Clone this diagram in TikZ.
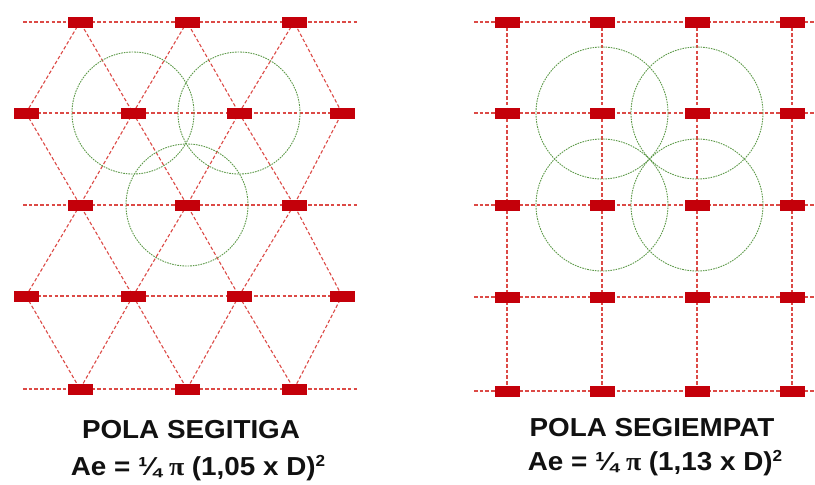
\documentclass[tikz,border=0pt]{standalone}
\usepackage{fontspec}
\setmainfont{Liberation Serif}
\setsansfont{Liberation Sans}
\newfontfamily\capfont[FakeStretch=1.07]{Liberation Sans}
\newfontfamily\pifont[FakeStretch=1.07]{Liberation Serif}
\usetikzlibrary{backgrounds}
\definecolor{padred}{HTML}{C4000A}
\definecolor{gridred}{HTML}{DC4A46}
\definecolor{zonegreen}{HTML}{5E9A4A}
\definecolor{ink}{HTML}{111111}
\newcommand{\PW}{25pt}
\newcommand{\PH}{11pt}
\newcommand{\sq}{\raisebox{9pt}{\fontsize{16}{16}\selectfont 2}}
\tikzset{
  pad/.style={fill=padred,minimum width=\PW,minimum height=\PH,inner sep=0pt},
  gridline/.style={gridred,line width=1.1pt,dash pattern=on 3.5pt off 2.2pt},
  zone/.style={zonegreen,line width=0.9pt,dash pattern=on 1.6pt off 1pt},
  caption/.style={anchor=base,inner sep=0pt,text=ink,
    font=\capfont\bfseries\fontsize{26}{30}\selectfont}
}

\begin{document}
\begin{tikzpicture}[x=1pt,y=-1pt]
\useasboundingbox (0,0) rectangle (815,485);

% ---------------- L1: triangular pattern -----------------------------------
\foreach \r/\y in {1/22,3/205,5/389}
  \foreach \c/\x in {1/80,2/187,3/294}
    {\node[pad] (T-\r-\c) at (\x,\y) {};}
\foreach \r/\y in {2/113,4/296}
  \foreach \c/\x in {1/26,2/133,3/239,4/342}
    {\node[pad] (T-\r-\c) at (\x,\y) {};}
\foreach \r/\y in {1/22,3/205,5/389}
  {\coordinate (TL-\r) at (23,\y); \coordinate (TR-\r) at (357,\y);}

\begin{scope}[on background layer]
  \foreach \r in {1,3,5}
    {\draw[gridline] (TL-\r) -- (TR-\r);}
  \foreach \r in {2,4}
    {\draw[gridline] (T-\r-1.center) -- (T-\r-4.center);}
  % each pad of a short row meets the two pads of the long rows next to it
  \foreach \r/\s in {1/2,3/2,3/4,5/4}
    \foreach \c in {1,2,3}
      {\pgfmathtruncatemacro{\n}{\c+1}
       \draw[gridline] (T-\s-\c.center) -- (T-\r-\c.center) -- (T-\s-\n.center);}
  \draw[zone] (T-2-2.center) circle (61);
  \draw[zone] (T-2-3.center) circle (61);
  \draw[zone] (T-3-2.center) circle (61);
\end{scope}

\node[caption] (tri-title) at (191,438) {POLA SEGITIGA};
\node[caption] (tri-area) at (198,475) {Ae = ¼ {\pifont π} (1,05 x D)\sq};

% ---------------- L2: square pattern ---------------------------------------
\foreach \r/\y in {1/22,2/113,3/205,4/297,5/391}
  \foreach \c/\x in {1/507,2/602,3/697,4/792}
    {\node[pad] (S-\r-\c) at (\x,\y) {};}
\foreach \r/\y in {1/22,2/113,3/205,4/297,5/391}
  {\coordinate (SL-\r) at (474,\y); \coordinate (SR-\r) at (815,\y);}

\begin{scope}[on background layer]
  \foreach \r in {1,...,5}
    {\draw[gridline] (SL-\r) -- (SR-\r);}
  \foreach \c in {1,...,4}
    {\draw[gridline] (S-1-\c.center) -- (S-5-\c.center);}
  \foreach \r/\c in {2/2,2/3,3/2,3/3}
    {\draw[zone] (S-\r-\c.center) circle (66);}
\end{scope}

\node[caption] (sq-title) at (652,436) {POLA SEGIEMPAT};
\node[caption] (sq-area) at (655,470) {Ae = ¼ {\pifont π} (1,13 x D)\sq};

\end{tikzpicture}
\end{document}
